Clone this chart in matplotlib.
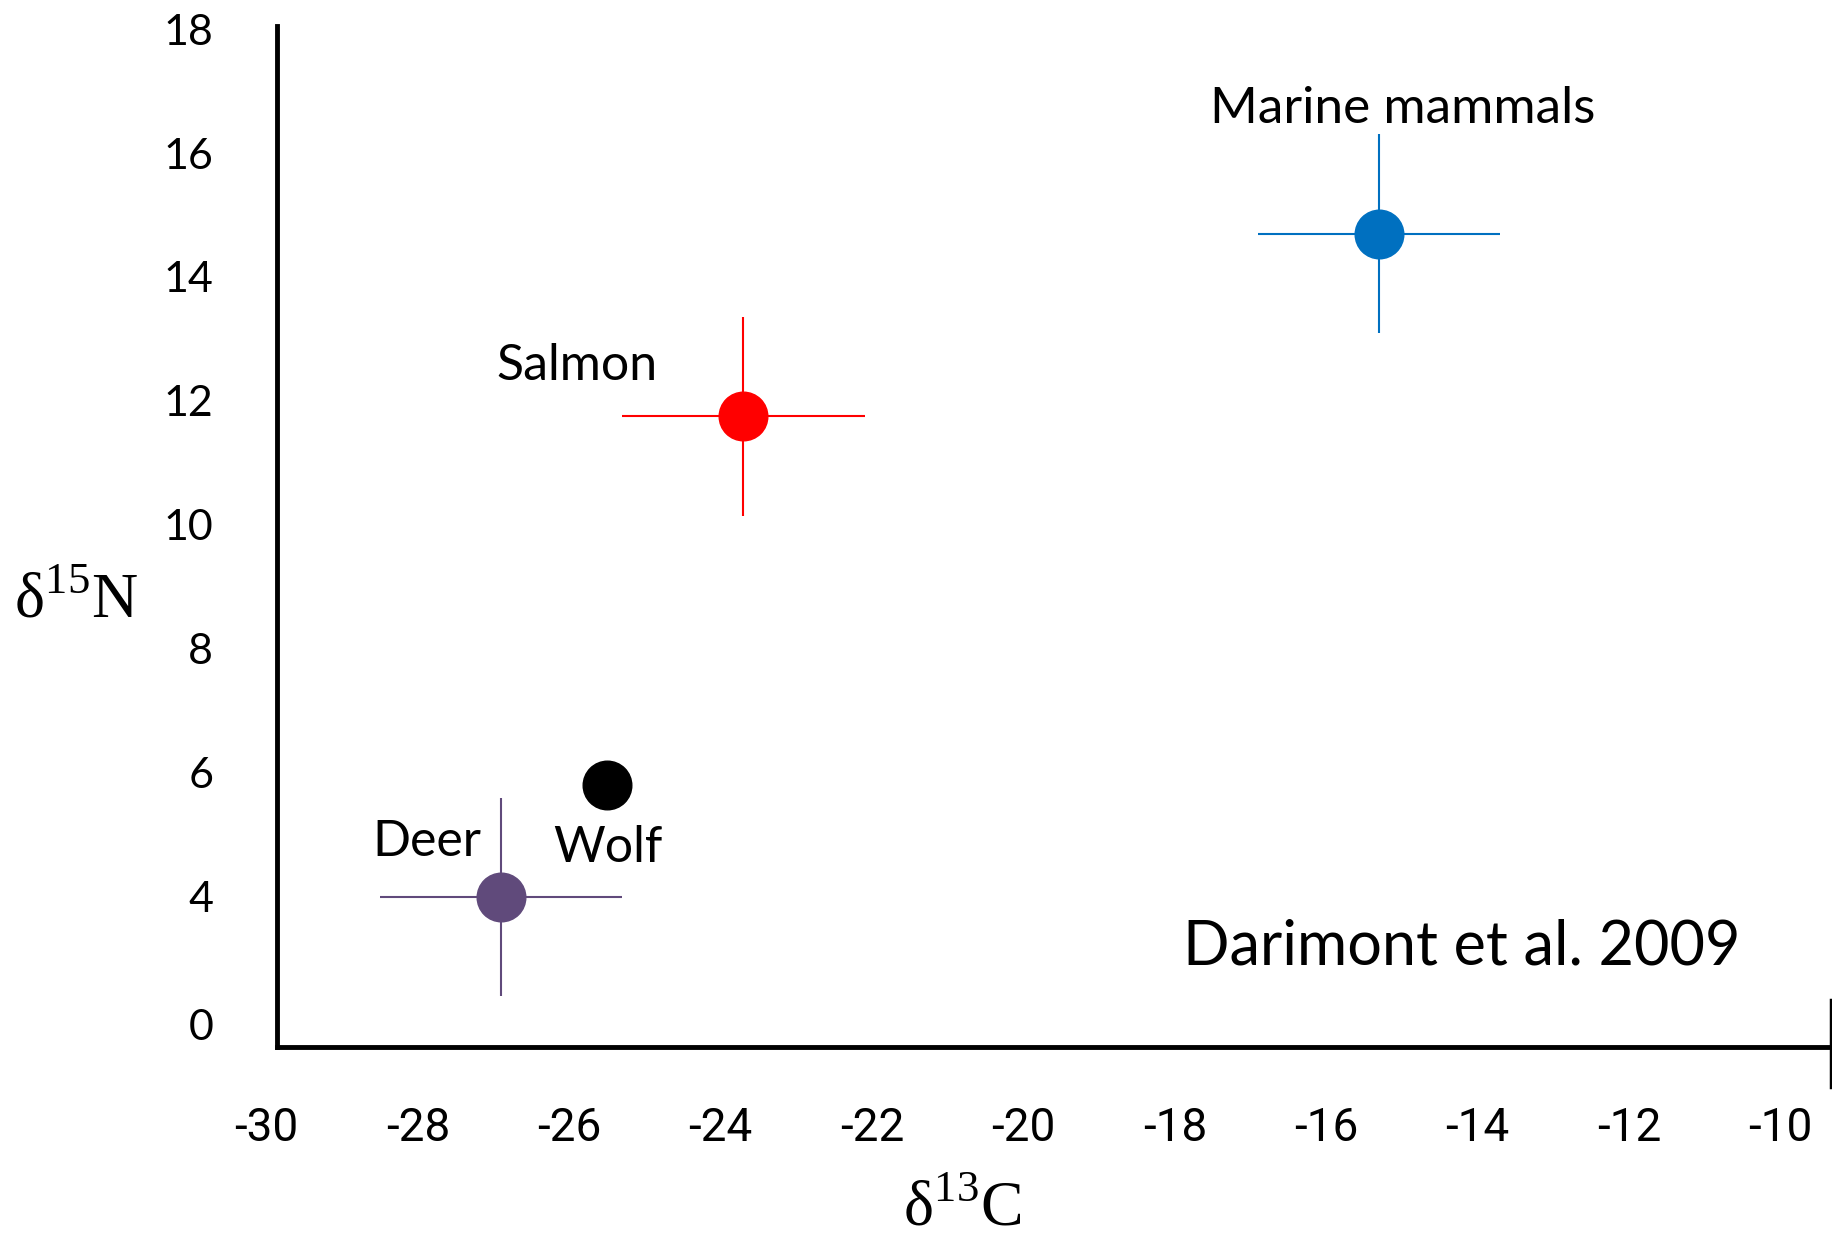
import numpy as np
import matplotlib.pyplot as plt

# isotope means and spread (delta13C, delta15N)
groups = ["Marine mammals", "Salmon", "Deer", "Wolf"]
d13c = [-15.3, -23.7, -26.9, -25.5]
d15n = [14.7, 11.75, 4.0, 5.8]
xerr = [1.6, 1.6, 1.6, 0.0]
yerr = [1.6, 1.6, 1.6, 0.0]
colors = ["#0070C0", "#FF0000", "#604A7B", "#000000"]

xticks = [-30, -28, -26, -24, -22, -20, -18, -16, -14, -12, -10]
yticks = [1.94, 4, 6, 8, 10, 12, 14, 16, 18]
ylabels = ["0", "4", "6", "8", "10", "12", "14", "16", "18"]

plt.rcParams['mathtext.fontset'] = 'custom'
plt.rcParams['mathtext.rm'] = 'Liberation Serif'

fig = plt.figure(figsize=(18.33, 12.40), dpi=100)
ax = fig.add_axes([0, 0, 1, 1])
ax.set_xlim(-33.52, -9.307)
ax.set_ylim(-1.541, 18.47)

for i in range(len(groups)):
    ax.errorbar(d13c[i], d15n[i], xerr=xerr[i], yerr=yerr[i], fmt='o',
                color=colors[i], ms=35, elinewidth=1.5, capsize=0, zorder=3)

# axis frame
ax.spines['top'].set_visible(False)
ax.spines['right'].set_visible(False)
ax.spines['left'].set_position(('data', -29.86))
ax.spines['bottom'].set_position(('data', 1.57))
ax.spines['left'].set_bounds(1.57, 18.05)
ax.spines['bottom'].set_bounds(-29.86, -9.33)
ax.spines['left'].set_linewidth(3.5)
ax.spines['bottom'].set_linewidth(3.5)
ax.plot([-9.34, -9.34], [0.93, 2.34], color='k', lw=2.5, clip_on=False)

ax.set_xticks(xticks)
ax.set_xticklabels([str(v) for v in xticks], family='Roboto', fontsize=33)
ax.set_yticks(yticks)
ax.set_yticklabels(ylabels, family='Lato', fontsize=31)
ax.tick_params(axis='x', length=0, pad=42)
ax.tick_params(axis='y', length=0, pad=46)

ax.text(-14.99, 16.71, "Marine mammals", family='Lato', fontsize=37, ha='center', va='center')
ax.text(-25.90, 12.56, "Salmon", family='Lato', fontsize=36, ha='center', va='center')
ax.text(-27.88, 4.88, "Deer", family='Lato', fontsize=36, ha='center', va='center')
ax.text(-25.49, 4.78, "Wolf", family='Lato', fontsize=36, ha='center', va='center')
ax.text(-14.21, 3.19, "Darimont et al. 2009", family='Lato', fontsize=44, ha='center', va='center')

fig.text(0.0415, 0.514, 'δ$^{15}$N', family='Liberation Serif', fontsize=46, ha='center', va='center')
fig.text(0.525, 0.024, 'δ$^{13}$C', family='Liberation Serif', fontsize=46, ha='center', va='center')

fig.savefig("out.png", dpi=100)
